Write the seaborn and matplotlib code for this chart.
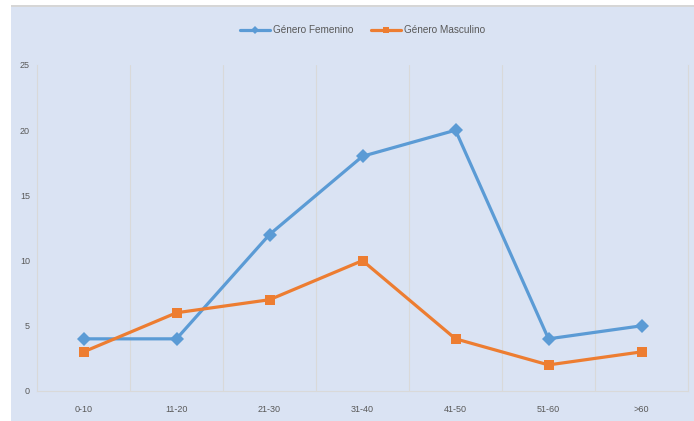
import matplotlib
matplotlib.use('Agg')
import matplotlib.pyplot as plt
import seaborn as sns
import pandas as pd
from matplotlib.patches import Rectangle

grupos = ['0-10', '11-20', '21-30', '31-40', '41-50', '51-60', '>60']
femenino = [4, 4, 12, 18, 20, 4, 5]
masculino = [3, 6, 7, 10, 4, 2, 3]

sns.set_style('white')
plt.rcParams['font.family'] = ['Liberation Sans Narrow', 'Liberation Sans', 'DejaVu Sans']

df = pd.DataFrame({'x': list(range(len(grupos))) * 2,
                   'valor': femenino + masculino,
                   'serie': ['Género Femenino'] * 7 + ['Género Masculino'] * 7})

fig = plt.figure(figsize=(6.94, 4.21), dpi=100)
fig.patch.set_facecolor('#dae3f3')
# white margin on the left and top, thin gray line on top
fig.patches.append(Rectangle((0, 0), 11 / 694, 1, transform=fig.transFigure,
                             facecolor='white', edgecolor='none'))
fig.patches.append(Rectangle((0, 1 - 5 / 421), 1, 5 / 421, transform=fig.transFigure,
                             facecolor='white', edgecolor='none'))
fig.patches.append(Rectangle((11 / 694, 1 - 7 / 421), 1 - 11 / 694, 2 / 421,
                             transform=fig.transFigure, facecolor='#d6d6d6',
                             edgecolor='none'))

ax = fig.add_axes([37 / 694, 30 / 421, (688 - 37) / 694, (391 - 65) / 421])
ax.set_facecolor('none')

palette = {'Género Femenino': '#5b9bd5', 'Género Masculino': '#ed7d31'}
sns.lineplot(data=df, x='x', y='valor', hue='serie', style='serie',
             markers={'Género Femenino': 'D', 'Género Masculino': 's'},
             dashes=False, palette=palette, linewidth=2.3, markersize=7.5,
             markeredgewidth=0, ax=ax, legend=True)

ax.set_xlim(-0.5, len(grupos) - 0.5)
ax.set_ylim(0, 25)
ax.set_yticks(range(0, 26, 5))
ax.set_xticks(range(len(grupos)))
ax.set_xticklabels(grupos)
ax.set_xticks([i + 0.5 for i in range(len(grupos) - 1)], minor=True)
ax.grid(which='minor', axis='x', color='#d9d9d9', linewidth=0.8)
ax.tick_params(axis='both', which='both', length=0, labelsize=7,
               labelcolor='#595959')
ax.tick_params(axis='x', pad=10)
ax.tick_params(axis='y', pad=5)
for lab in ax.get_xticklabels() + ax.get_yticklabels():
    lab.set_family(['Liberation Sans', 'DejaVu Sans'])
    lab.set_fontsize(6.5)
ax.set_xlabel('')
ax.set_ylabel('')
for s in ['left', 'bottom', 'right']:
    ax.spines[s].set_color('#d9d9d9')
    ax.spines[s].set_linewidth(0.8)
ax.spines['top'].set_visible(False)

leg = ax.legend(loc='center', bbox_to_anchor=(0.5, 1 + 35 / 326), ncol=2,
                frameon=False, fontsize=7.2, handlelength=3.0, columnspacing=1.8,
                handletextpad=0.3, markerscale=0.6)
for t in leg.get_texts():
    t.set_color('#595959')

plt.savefig('out.png', dpi=100, facecolor=fig.get_facecolor())
